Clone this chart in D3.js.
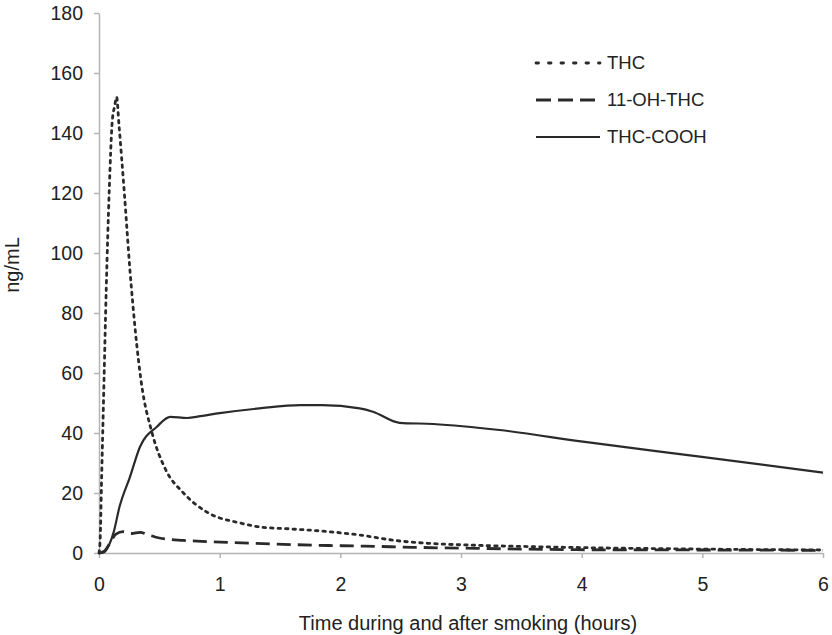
<!DOCTYPE html>
<html>
<head>
<meta charset="utf-8">
<script src="https://cdn.jsdelivr.net/npm/d3@7"></script>
<style>
	body { margin: 0; background: #fff; }
	text { font-family: "Liberation Sans", Arial, sans-serif; fill: #222; }
</style>
</head>
<body>
<div id="chart"></div>
<script>

///////////////////////////////////////////////////////////////////////////
//////////////////////////////// Data /////////////////////////////////////
///////////////////////////////////////////////////////////////////////////

var seriesNames = ["THC", "11-OH-THC", "THC-COOH"];
var xTicks = [0, 1, 2, 3, 4, 5, 6];
var yTicks = [0, 20, 40, 60, 80, 100, 120, 140, 160, 180];

//THC (hours, ng/mL)
var thcTime  = [0, 0.01, 0.02, 0.04, 0.06, 0.085, 0.11, 0.13, 0.146, 0.165, 0.21, 0.257, 0.35, 0.44, 0.55, 0.70, 0.9, 1.17, 1.33, 1.6, 1.91, 2.16, 2.47, 2.74, 3.1, 3.5, 4, 5, 6];
var thcValue = [0, 5, 22, 55, 88, 121, 144, 149, 152, 143, 120, 94, 57, 40, 28, 20, 13.5, 10, 8.7, 8, 7.1, 6, 4.1, 3.2, 2.6, 2.2, 1.8, 1.3, 1];

//11-OH-THC
var ohTime  = [0, 0.04, 0.09, 0.14, 0.2, 0.27, 0.34, 0.4, 0.5, 0.7, 0.9, 1.3, 1.9, 2.2, 2.6, 3.2, 3.96, 5, 6];
var ohValue = [0, 0.5, 3.2, 6.3, 7.1, 6.5, 6.9, 6.2, 5, 4.2, 3.8, 3.2, 2.5, 2.3, 1.9, 1.5, 1.1, 1, 0.9];

//THC-COOH
var coohTime  = [0, 0.04, 0.09, 0.12, 0.17, 0.257, 0.34, 0.48, 0.59, 0.73, 0.84, 1.0, 1.33, 1.67, 1.85, 2.16, 2.27, 2.49, 2.77, 3.32, 4.01, 4.98, 6];
var coohValue = [0, 0.2, 3.3, 6.7, 15.4, 25.4, 35.4, 42.1, 45.4, 45, 45.6, 46.6, 48.2, 49.3, 49.3, 48.2, 47.1, 43.4, 43, 41, 37.1, 32.1, 26.8];

///////////////////////////////////////////////////////////////////////////
//////////////////// Set up and initiate svg containers ///////////////////
///////////////////////////////////////////////////////////////////////////

var W = 832, H = 635;
var margin = { top: 13, right: 9, bottom: 82, left: 99 };
var width = W - margin.left - margin.right,
	height = H - margin.top - margin.bottom;

var svg = d3.select("#chart").append("svg")
	.attr("width", W)
	.attr("height", H);

var g = svg.append("g")
	.attr("transform", "translate(" + margin.left + "," + margin.top + ")");

var x = d3.scaleLinear().domain([0, 6]).range([0, width]);
var y = d3.scaleLinear().domain([0, 180]).range([height, 0]);

var tickFont = 19.5, titleFont = 20, legendFont = 18.5;
var axisColor = "#b4b4b4";

///////////////////////////////////////////////////////////////////////////
//////////////////////////////// Axes /////////////////////////////////////
///////////////////////////////////////////////////////////////////////////

var yAxis = g.append("g")
	.call(d3.axisLeft(y).tickValues(yTicks).tickFormat(d3.format("d"))
		.tickSize(5).tickSizeOuter(0).tickPadding(11));
var xAxis = g.append("g")
	.attr("transform", "translate(0," + height + ")")
	.call(d3.axisBottom(x).tickValues(xTicks).tickFormat(d3.format("d"))
		.tickSize(5).tickSizeOuter(0).tickPadding(19));

[xAxis, yAxis].forEach(function(a) {
	a.select(".domain").attr("stroke", axisColor).attr("stroke-width", 1.5);
	a.selectAll(".tick line").attr("stroke", axisColor).attr("stroke-width", 1.5);
	a.selectAll(".tick text")
		.style("font-family", "'Liberation Sans', Arial, sans-serif")
		.style("font-size", tickFont + "px")
		.attr("fill", "#222");
});

//Axis titles
svg.append("text")
	.attr("x", margin.left + width / 2 + 7)
	.attr("y", 630)
	.style("text-anchor", "middle")
	.style("font-size", titleFont + "px")
	.text("Time during and after smoking (hours)");

svg.append("text")
	.attr("transform", "translate(19,265) rotate(-90)")
	.style("text-anchor", "middle")
	.style("font-size", titleFont + "px")
	.text("ng/mL");

///////////////////////////////////////////////////////////////////////////
//////////////////////////////// Lines ////////////////////////////////////
///////////////////////////////////////////////////////////////////////////

var series = [
	{ name: seriesNames[0], t: thcTime, v: thcValue, dash: "2.5,5", width: 2.8, cap: "round" },
	{ name: seriesNames[1], t: ohTime, v: ohValue, dash: "14,7", width: 2.8, cap: "butt" },
	{ name: seriesNames[2], t: coohTime, v: coohValue, dash: null, width: 2.2, cap: "butt" }
];

var line = d3.line()
	.x(function(d) { return x(d[0]); })
	.y(function(d) { return y(d[1]); })
	.curve(d3.curveMonotoneX);

g.selectAll(".series")
	.data(series)
	.enter().append("path")
	.attr("class", "series")
	.attr("d", function(s) { return line(d3.zip(s.t, s.v)); })
	.attr("fill", "none")
	.attr("stroke", "#2a2a2a")
	.attr("stroke-width", function(s) { return s.width; })
	.attr("stroke-linecap", function(s) { return s.cap; })
	.attr("stroke-dasharray", function(s) { return s.dash; });

///////////////////////////////////////////////////////////////////////////
//////////////////////////////// Legend ///////////////////////////////////
///////////////////////////////////////////////////////////////////////////

var legendDash = ["2.5,10", "15,7", null];
var legend = svg.selectAll(".legend")
	.data(series)
	.enter().append("g")
	.attr("class", "legend")
	.attr("transform", function(d, i) { return "translate(536," + (63 + i * 37) + ")"; });

legend.append("line")
	.attr("x1", 0).attr("x2", 64)
	.attr("stroke", "#2a2a2a")
	.attr("stroke-width", function(s) { return s.width; })
	.attr("stroke-linecap", function(s) { return s.cap; })
	.attr("stroke-dasharray", function(s, i) { return legendDash[i]; });

legend.append("text")
	.attr("x", 71)
	.attr("dy", "0.35em")
	.style("font-size", legendFont + "px")
	.text(function(s) { return s.name; });

</script>
</body>
</html>
